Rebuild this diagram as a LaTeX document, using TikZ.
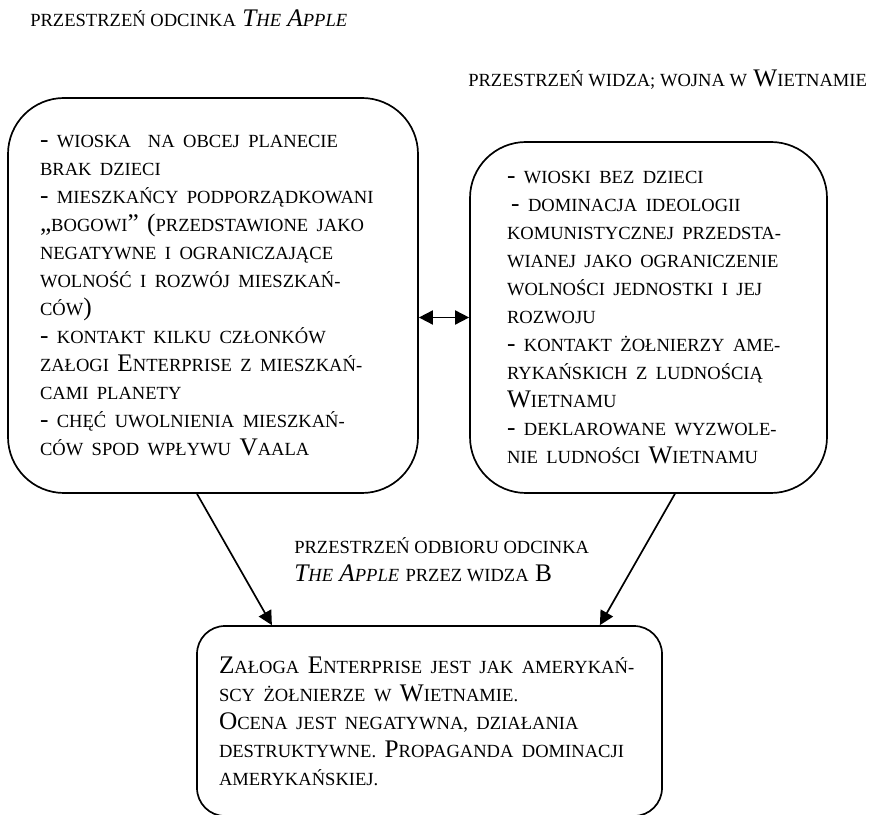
\documentclass[tikz,border=0pt]{standalone}
\usepackage{fontspec}
\setmainfont{Liberation Serif}
\usetikzlibrary{arrows.meta}
\newcommand{\smc}[1]{{\fontsize{13.2pt}{19.9pt}\selectfont\MakeUppercase{#1}}}
\tikzset{
	>={Triangle[length=10pt,width=10pt]},
	spacebox/.style={draw, line width=1.2pt, rounded corners=1.4cm, align=left, inner ysep=0pt, font=\fontsize{18pt}{19.9pt}\selectfont},
	heading/.style={align=left, inner sep=0pt, font=\fontsize{18pt}{19.9pt}\selectfont},
	linkarrow/.style={line width=1.2pt}
}

\begin{document}
\begin{tikzpicture}
	\useasboundingbox (0,0) rectangle (21.775,20.35);
	\node[heading, anchor=base west] (appletitle) at (0.75,19.675) {\smc{przestrzeń odcinka} \textit{T\smc{he} A\smc{pple}}};
	\node[heading, anchor=base west] (viewertitle) at (11.7,18.175) {\smc{przestrzeń widza; wojna w} W\smc{ietnamie}};
	\node[spacebox, text width=8.65cm, inner xsep=0.8cm, minimum height=9.875cm] (apple) at (5.325,12.9625) {- \smc{wioska\ \ na obcej planecie}\\
		\smc{brak dzieci}\\
		- \smc{mieszkańcy podporządkowani}\\
		„\smc{bogowi}” (\smc{przedstawione jako}\\
		\smc{negatywne i ograniczające}\\
		\smc{wolność i rozwój mieszkań-}\\
		\smc{ców})\\
		- \smc{kontakt kilku członków}\\
		\smc{załogi} E\smc{nterprise z mieszkań-}\\
		\smc{cami planety}\\
		- \smc{chęć uwolnienia mieszkań-}\\
		\smc{ców spod wpływu} V\smc{aala}};
	\node[spacebox, text width=7.075cm, inner xsep=0.925cm, minimum height=8.775cm] (viewer) at (16.2125,12.4125) {- \smc{wioski bez dzieci}\\
		\hspace*{3pt}- \smc{dominacja ideologii}\\
		\smc{komunistycznej przedsta-}\\
		\smc{wianej jako ograniczenie}\\
		\smc{wolności jednostki i jej}\\
		\smc{rozwoju}\\
		- \smc{kontakt żołnierzy ame-}\\
		\smc{rykańskich z ludnością}\\
		W\smc{ietnamu}\\
		- \smc{deklarowane wyzwole-}\\
		\smc{nie ludności} W\smc{ietnamu}};
	\node[spacebox, rounded corners=0.7cm, text width=10.525cm, inner xsep=0.55cm, minimum height=4.75cm] (reception) at (10.7375,2.325) {Z\smc{ałoga} E\smc{nterprise jest jak amerykań-}\\
		\smc{scy żołnierze w} W\smc{ietnamie.}\\
		O\smc{cena jest negatywna, działania}\\
		\smc{destruktywne.} P\smc{ropaganda dominacji}\\
		\smc{amerykańskiej.}};
	\node[heading, anchor=west] (receptiontitle) at (7.35,6.35) {\smc{przestrzeń odbioru odcinka}\\
		\textit{T\smc{he} A\smc{pple}} \smc{przez widza} B};
	\draw[linkarrow, <->] (viewer.west -| apple.east) -- (viewer.west);
	\draw[linkarrow, ->] ([xshift=-0.4cm]apple.south) -- ([xshift=-3.94cm]reception.north);
	\draw[linkarrow, ->] ([xshift=0.66cm]viewer.south) -- ([xshift=4.26cm]reception.north);
\end{tikzpicture}
\end{document}
